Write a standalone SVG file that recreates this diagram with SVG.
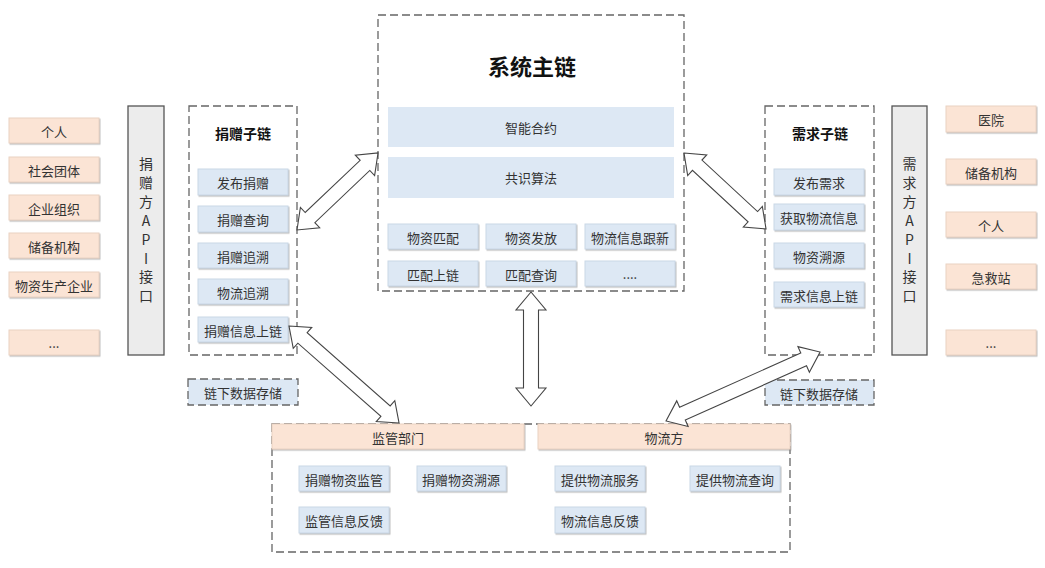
<svg xmlns="http://www.w3.org/2000/svg" width="1045" height="568" viewBox="0 0 1045 568">
<defs>
<style>
text{font-family:"Noto Sans CJK SC","Liberation Sans",sans-serif;fill:#333;font-size:13px;text-anchor:middle;dominant-baseline:central}
.org{fill:#fbe4d5;stroke:#e9d2c2;stroke-width:1;filter:url(#sh)}
.blu{fill:#dde8f4;stroke:#c9d7e6;stroke-width:1;filter:url(#sh)}
.bar{fill:#dde8f4}
.dash{fill:none;stroke:#666;stroke-width:1.3;stroke-dasharray:8 4}
.dashb{fill:#dde8f4;stroke:#666;stroke-width:1.3;stroke-dasharray:8 4}
.api{fill:#ececec;stroke:#555;stroke-width:1.3}
.ttl{font-weight:bold;font-size:14px;fill:#111}
.big{font-weight:bold;font-size:22px;fill:#111}
.vt{font-size:14px}
.arr{fill:#fff;stroke:#444;stroke-width:1.1;stroke-linejoin:miter}
</style>
<filter id="sh" x="-10%" y="-20%" width="130%" height="160%">
<feDropShadow dx="1" dy="1.2" stdDeviation="0.7" flood-color="#888" flood-opacity="0.55"/>
</filter>
</defs>
<rect width="1045" height="568" fill="#fff"/>

<g id="donors">
<rect class="org" x="9" y="118" width="90" height="25"/><text x="54" y="131">个人</text>
<rect class="org" x="9" y="157" width="90" height="25"/><text x="54" y="170">社会团体</text>
<rect class="org" x="9" y="195" width="90" height="25"/><text x="54" y="208">企业组织</text>
<rect class="org" x="9" y="233" width="90" height="25"/><text x="54" y="246">储备机构</text>
<rect class="org" x="9" y="272" width="90" height="25"/><text x="54" y="285">物资生产企业</text>
<rect class="org" x="9" y="330" width="90" height="25"/><text x="54" y="342">...</text>
</g>

<g id="donor-api">
<rect class="api" x="128" y="106" width="36" height="249"/>
<text class="vt" x="146" y="163">捐</text>
<text class="vt" x="146" y="182">赠</text>
<text class="vt" x="146" y="201">方</text>
<text class="vt" x="146" y="220">A</text>
<text class="vt" x="146" y="239">P</text>
<text class="vt" x="146" y="258">I</text>
<text class="vt" x="146" y="276">接</text>
<text class="vt" x="146" y="295">口</text>
</g>

<g id="donation-chain">
<rect class="dash" x="189" y="106" width="108" height="249"/>
<text class="ttl" x="243" y="133">捐赠子链</text>
<rect class="blu" x="198" y="169" width="90" height="26"/><text x="243" y="182">发布捐赠</text>
<rect class="blu" x="198" y="206" width="90" height="26"/><text x="243" y="219">捐赠查询</text>
<rect class="blu" x="198" y="243" width="90" height="25"/><text x="243" y="256">捐赠追溯</text>
<rect class="blu" x="198" y="279" width="90" height="25"/><text x="243" y="292">物流追溯</text>
<rect class="blu" x="198" y="317" width="90" height="25"/><text x="243" y="330">捐赠信息上链</text>
</g>

<g id="donation-offchain">
<rect class="dashb" x="188" y="379" width="110" height="26"/><text x="243" y="392">链下数据存储</text>
</g>

<g id="main-chain">
<rect class="dash" x="378" y="15" width="306" height="276"/>
<text class="big" x="532" y="65">系统主链</text>
<rect class="bar" x="388" y="107" width="286" height="40"/><text x="531" y="127">智能合约</text>
<rect class="bar" x="388" y="157" width="286" height="41"/><text x="531" y="177">共识算法</text>
<rect class="blu" x="388" y="224" width="90" height="25"/><text x="433" y="237">物资匹配</text>
<rect class="blu" x="486" y="224" width="90" height="25"/><text x="531" y="237">物资发放</text>
<rect class="blu" x="585" y="224" width="90" height="25"/><text x="630" y="237">物流信息跟新</text>
<rect class="blu" x="388" y="261" width="90" height="25"/><text x="433" y="274">匹配上链</text>
<rect class="blu" x="486" y="261" width="90" height="25"/><text x="531" y="274">匹配查询</text>
<rect class="blu" x="585" y="261" width="90" height="25"/><text x="630" y="273">....</text>
</g>

<g id="demand-chain">
<rect class="dash" x="765" y="106" width="109" height="249"/>
<text class="ttl" x="820" y="133">需求子链</text>
<rect class="blu" x="774" y="169" width="90" height="26"/><text x="819" y="182">发布需求</text>
<rect class="blu" x="774" y="204" width="90" height="26"/><text x="819" y="217">获取物流信息</text>
<rect class="blu" x="774" y="243" width="90" height="25"/><text x="819" y="256">物资溯源</text>
<rect class="blu" x="774" y="282" width="90" height="25"/><text x="819" y="295">需求信息上链</text>
</g>

<g id="demand-offchain">
<rect class="dashb" x="765" y="380" width="109" height="25"/><text x="819" y="393">链下数据存储</text>
</g>

<g id="demand-api">
<rect class="api" x="892" y="106" width="35" height="249"/>
<text class="vt" x="909.5" y="163">需</text>
<text class="vt" x="909.5" y="182">求</text>
<text class="vt" x="909.5" y="201">方</text>
<text class="vt" x="909.5" y="220">A</text>
<text class="vt" x="909.5" y="239">P</text>
<text class="vt" x="909.5" y="258">I</text>
<text class="vt" x="909.5" y="276">接</text>
<text class="vt" x="909.5" y="295">口</text>
</g>

<g id="demanders">
<rect class="org" x="946" y="106" width="90" height="26"/><text x="991" y="119">医院</text>
<rect class="org" x="946" y="159" width="90" height="25"/><text x="991" y="172">储备机构</text>
<rect class="org" x="946" y="212" width="90" height="25"/><text x="991" y="225">个人</text>
<rect class="org" x="946" y="264" width="90" height="25"/><text x="991" y="277">急救站</text>
<rect class="org" x="946" y="330" width="90" height="25"/><text x="991" y="342">...</text>
</g>

<g id="bottom-parties">
<rect class="dash" x="272" y="424" width="518" height="128"/>
</g>

<g id="regulator">
<rect class="org" x="272" y="424" width="252" height="25"/><text x="398" y="437">监管部门</text>
<rect class="blu" x="299" y="466" width="90" height="25"/><text x="344" y="479">捐赠物资监管</text>
<rect class="blu" x="417" y="466" width="89" height="25"/><text x="461" y="479">捐赠物资溯源</text>
<rect class="blu" x="299" y="507" width="90" height="26"/><text x="344" y="520">监管信息反馈</text>
</g>

<g id="logistics">
<rect class="org" x="538" y="424" width="252" height="25"/><text x="664" y="437">物流方</text>
<rect class="blu" x="555" y="466" width="90" height="25"/><text x="600" y="479">提供物流服务</text>
<rect class="blu" x="690" y="466" width="90" height="25"/><text x="735" y="479">提供物流查询</text>
<rect class="blu" x="555" y="507" width="90" height="26"/><text x="600" y="520">物流信息反馈</text>
</g>

<g id="connectors">
<polygon class="arr" transform="translate(297,230) rotate(-43.56)" points="0,0 18,-14 18,-7 93.8,-7 93.8,-14 111.8,0 93.8,14 93.8,7 18,7 18,14"/>
<polygon class="arr" transform="translate(289,326) rotate(41.4)" points="0,0 18,-14 18,-7 128.7,-7 128.7,-14 146.7,0 128.7,14 128.7,7 18,7 18,14"/>
<polygon class="arr" transform="translate(531,292) rotate(90)" points="0,0 18,-15 18,-7.5 96,-7.5 96,-15 114,0 96,15 96,7.5 18,7.5 18,15"/>
<polygon class="arr" transform="translate(684,153) rotate(42.8)" points="0,0 18,-14 18,-7 93.8,-7 93.8,-14 111.8,0 93.8,14 93.8,7 18,7 18,14"/>
<polygon class="arr" transform="translate(666,421) rotate(-24.1)" points="0,0 18,-14 18,-7 150.8,-7 150.8,-14 168.8,0 150.8,14 150.8,7 18,7 18,14"/>
</g>
</svg>
